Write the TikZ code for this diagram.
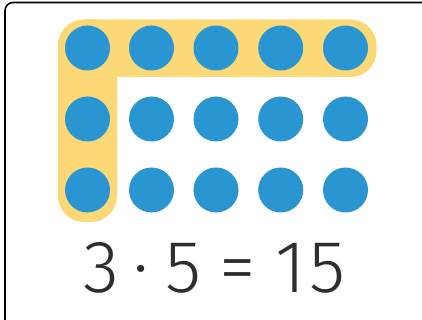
\documentclass[tikz,border=0pt]{standalone}
\usepackage{fontspec}
\newfontfamily\eqfont{Fira Sans Light}
\definecolor{bandyellow}{HTML}{FCD877}
\definecolor{dotblue}{HTML}{2A96D1}
\definecolor{textgrey}{HTML}{2E2E2E}
\begin{document}
\begin{tikzpicture}[x=1pt,y=-1pt,
  band/.style={fill=bandyellow,rounded corners=26pt},
  dotc/.style={circle,fill=dotblue,inner sep=0pt,minimum size=45pt},
  frame/.style={draw=black,line width=1.6pt,rounded corners=8pt}]
\useasboundingbox (0,0) rectangle (422,320);
\begin{scope}
\clip (0,0) rectangle (422,320);
\draw[frame] (5,2.5) rectangle (440,340);
\end{scope}
\fill[band] (58,19.5) rectangle (376.5,77);
\fill[band] (58,19.5) rectangle (117,222);
\foreach \r/\y in {1/48,2/119,3/190}{
  \foreach \c/\x in {1/87.5,2/151.5,3/216,4/280.7,5/345.5}{
    \node[dotc] (d\r\c) at (\x,\y) {};
  }
}
\node[text=textgrey,font=\eqfont\fontsize{74}{74}\selectfont,anchor=base west,inner sep=0pt] (eq) at (83,292) {3\hspace{14pt}·\hspace{17pt}5\hspace{18pt}=\hspace{20pt}1\hspace{3pt}5};
\end{tikzpicture}
\end{document}
